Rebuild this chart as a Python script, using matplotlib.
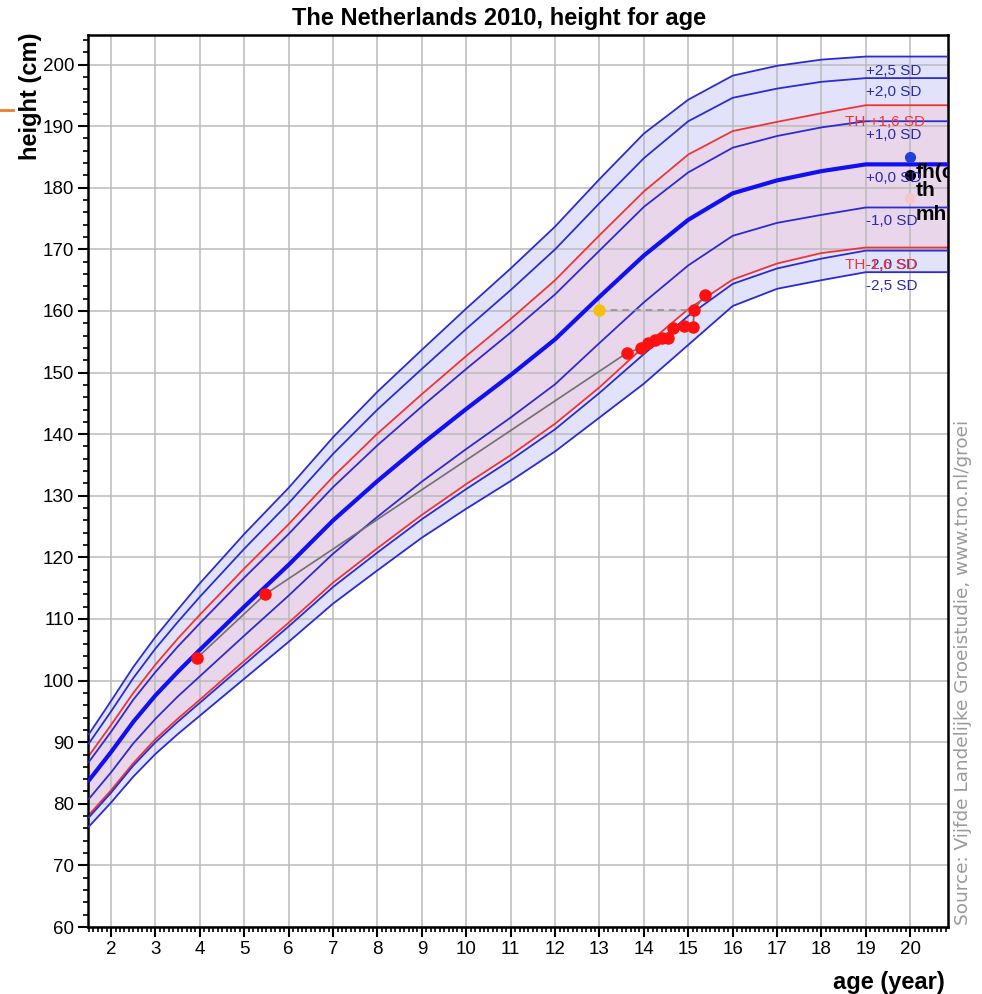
import matplotlib
matplotlib.use("Agg")
import matplotlib.pyplot as plt
from matplotlib.lines import Line2D
from matplotlib.ticker import MultipleLocator

plt.rcParams['font.family'] = ['Liberation Sans', 'DejaVu Sans']

# reference curves (cm)
age = [1.5, 2, 2.5, 3, 3.5, 4, 5, 6, 7, 8, 9, 10, 11, 12, 13, 14, 15, 16, 17, 18, 19, 20, 21]
sd_p25 = [91.3, 96.7, 102.2, 107.1, 111.5, 115.8, 123.8, 131.3, 139.5, 146.9, 153.7, 160.4, 166.9,
          173.7, 181.4, 188.8, 194.3, 198.2, 199.8, 200.8, 201.3, 201.3, 201.3]
sd_p20 = [89.8, 95.0, 100.4, 105.2, 109.5, 113.6, 121.4, 128.8, 136.8, 144.0, 150.6, 157.1, 163.4,
          170.0, 177.5, 184.8, 190.8, 194.6, 196.1, 197.2, 197.8, 197.8, 197.8]
sd_p10 = [86.8, 91.7, 96.9, 101.4, 105.5, 109.3, 116.7, 123.8, 131.4, 138.2, 144.5, 150.6, 156.5,
          162.7, 169.8, 176.9, 182.5, 186.5, 188.4, 189.8, 190.8, 190.8, 190.8]
sd_0 = [83.8, 88.4, 93.3, 97.6, 101.4, 105.0, 112.0, 118.8, 126.0, 132.4, 138.4, 144.1, 149.6,
        155.4, 162.3, 169.0, 174.8, 179.1, 181.2, 182.7, 183.8, 183.8, 183.8]
sd_m10 = [80.8, 85.1, 89.8, 93.8, 97.4, 100.7, 107.3, 113.8, 120.6, 126.6, 132.3, 137.6, 142.7,
          148.1, 154.8, 161.4, 167.4, 172.2, 174.3, 175.6, 176.8, 176.8, 176.8]
sd_m20 = [77.8, 81.8, 86.2, 90.0, 93.3, 96.4, 102.6, 108.8, 115.2, 120.8, 126.2, 131.1, 135.8,
          140.8, 146.7, 153.0, 159.2, 164.4, 166.9, 168.5, 169.8, 169.8, 169.8]
sd_m25 = [76.3, 80.2, 84.4, 88.1, 91.3, 94.3, 100.3, 106.3, 112.5, 117.9, 123.2, 127.9, 132.4,
          137.2, 142.7, 148.2, 154.5, 160.8, 163.6, 165.0, 166.3, 166.3, 166.3]
th_up = [87.8, 92.8, 98.0, 102.6, 106.8, 110.7, 118.2, 125.4, 133.1, 140.1, 146.5, 152.7, 158.7,
         165.0, 172.3, 179.4, 185.4, 189.2, 190.7, 192.1, 193.4, 193.4, 193.4]
th_low = [78.2, 82.2, 86.6, 90.5, 93.8, 96.9, 103.2, 109.4, 115.9, 121.5, 126.9, 131.9, 136.6,
          141.7, 147.6, 154.2, 160.3, 165.1, 167.7, 169.4, 170.3, 170.3, 170.3]

# patient measurements
pat_age = [3.94, 5.47, 13.62, 13.94, 14.09, 14.25, 14.41, 14.55, 14.66, 14.90, 15.11, 15.13, 15.38]
pat_h = [103.7, 114.0, 153.2, 154.0, 154.8, 155.3, 155.6, 155.6, 157.2, 157.5, 157.4, 160.2, 162.6]
bone_age = 13.0
bone_h = 160.2
bone_ref_age = 15.13

# parental heights plotted at age 20
par_age = 20.0
fh = 185.0
th = 182.1
mh = 178.3

blue = '#2b2bd0'
red = '#ee3535'

fig = plt.figure(figsize=(9.82, 9.94), dpi=100)
ax = fig.add_axes([0.0896, 0.0674, 0.8758, 0.8974])

ax.fill_between(age, sd_m25, sd_p25, color='#e2e3fb', lw=0, zorder=0.2)
ax.fill_between(age, th_low, th_up, color='#ead6ea', lw=0, zorder=0.3)

ax.plot(age, th_up, color=red, lw=1.3, zorder=2)
ax.plot(age, th_low, color=red, lw=1.3, zorder=2)
for c in [sd_p25, sd_p20, sd_p10, sd_m10, sd_m20, sd_m25]:
    ax.plot(age, c, color=blue, lw=1.3, zorder=3)
ax.plot(age, sd_0, color='#1010f0', lw=3.0, zorder=3)

# patient line + points
ax.plot(pat_age, pat_h, color='#707070', lw=1.2, zorder=4)
ax.plot([bone_age, bone_ref_age], [bone_h, bone_h], color='#909090', lw=1.2, ls=(0, (4, 3)), zorder=4)
ax.plot(pat_age, pat_h, 'o', color='#ff1010', ms=8, mec='#ff1010', zorder=5)
ax.plot([bone_age], [bone_h], 'o', color='#f2c010', ms=8, zorder=5)

ax.plot([par_age], [fh], 'o', color='#2040d8', ms=7, zorder=5)
ax.plot([par_age], [th], 'o', color='black', ms=7, zorder=5)
ax.plot([par_age], [mh], 'o', color='#f6c8c8', ms=7, zorder=5)
for txt, val in [('fh(c)', fh), ('th', th), ('mh', mh)]:
    ax.annotate(txt, xy=(par_age, val), xytext=(5, -16), textcoords='offset pixels',
                fontsize=15, fontweight='bold', color='black', va='center', ha='left',
                annotation_clip=False, clip_on=True, zorder=6)

# SD labels on the right
sd_labels = [('+2,5 SD', sd_p25), ('+2,0 SD', sd_p20), ('+1,0 SD', sd_p10), ('+0,0 SD', sd_0),
             ('-1,0 SD', sd_m10), ('-2,0 SD', sd_m20), ('-2,5 SD', sd_m25)]
for txt, c in sd_labels:
    ax.annotate(txt, xy=(19.0, c[-1]), xytext=(0, -14), textcoords='offset pixels',
                fontsize=11, color='#2828b0', va='center', ha='left', zorder=6)
for txt, c in [('TH +1,6 SD', th_up), ('TH-1,6 SD', th_low)]:
    ax.annotate(txt, xy=(18.53, c[-1]), xytext=(0, -17), textcoords='offset pixels',
                fontsize=11, color=red, va='center', ha='left', zorder=6)

ax.set_xlim(1.48, 20.85)
ax.set_ylim(60, 204.8)
ax.xaxis.set_major_locator(MultipleLocator(1))
ax.xaxis.set_minor_locator(MultipleLocator(0.1))
ax.yaxis.set_major_locator(MultipleLocator(10))
ax.yaxis.set_minor_locator(MultipleLocator(2))
ax.set_xticks(range(2, 21))
ax.tick_params(which='major', length=7, width=1.5, labelsize=13.5, direction='out', pad=3)
ax.tick_params(which='minor', length=3.5, width=1.2, direction='out')
ax.grid(True, which='major', color='#bababa', lw=1.1, zorder=0.5)
ax.set_axisbelow(True)
for s in ax.spines.values():
    s.set_linewidth(1.8)
    s.set_color('black')

fig.text(499 / 982, 1 - 19 / 994, 'The Netherlands 2010, height for age', ha='center', va='center',
         fontsize=17, fontweight='bold')
fig.text(31 / 982, 1 - 33 / 994, 'height (cm)', rotation=90, ha='center', va='top',
         fontsize=17, fontweight='bold')
fig.text(945 / 982, 1 - 983 / 994, 'age (year)', ha='right', va='center',
         fontsize=17, fontweight='bold')
fig.text(963 / 982, 1 - 925 / 994, 'Source: Vijfde Landelijke Groeistudie, www.tno.nl/groei',
         rotation=90, ha='center', va='bottom', fontsize=13.3, color='#9a9a9a', family='DejaVu Sans')

fig.add_artist(Line2D([0, 13 / 982], [1 - 110 / 994, 1 - 110 / 994], transform=fig.transFigure,
                      color='#e8802a', lw=2))

fig.savefig('out.png', dpi=100)
